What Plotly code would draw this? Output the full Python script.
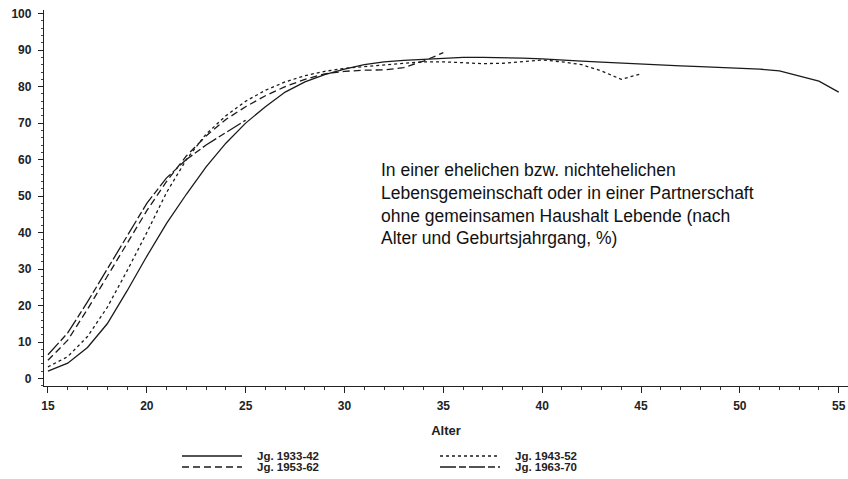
import plotly.graph_objects as go

# ---- data ----
ages_3342 = list(range(15, 56))
vals_3342 = [2, 4.2, 8.5, 15, 24, 33.5, 42.5, 50.5, 58, 64.5,
             70, 74.5, 78.5, 81.3, 83.3, 84.8, 86, 86.8, 87.2, 87.5,
             87.7, 88, 88, 88, 87.8, 87.6, 87.4, 87, 86.7, 86.4,
             86.1, 85.9, 85.7, 85.5, 85.3, 85.1, 84.8, 84.3, 83, 81.5,
             78.5]

ages_4352 = list(range(15, 46))
vals_4352 = [3.2, 6, 11.5, 19.5, 29.5, 40, 51, 60, 67, 72,
             76, 79, 81.3, 83, 84.2, 85, 85.5, 86, 86.3, 86.8,
             86.8, 86.5, 86.3, 86.4, 86.8, 87.3, 86.8, 86, 84.3, 82,
             83.5]

ages_5362 = list(range(15, 36))
vals_5362 = [5, 10.5, 19, 28, 37, 46, 54, 61, 66.5, 71,
             74.5, 77.5, 80, 82, 83.5, 84.2, 84.5, 84.6, 85.2, 87,
             89.3]

ages_6370 = list(range(15, 26))
vals_6370 = [6.5, 12.5, 21, 30, 39, 48, 55, 60, 64, 67.5, 70.8]

series_names = ["Jg. 1933-42", "Jg. 1943-52", "Jg. 1953-62", "Jg. 1963-70"]
series_dash = ["solid", "3px,3px", "7px,4px", "16px,3px,7px,3px"]

x_ticks = [15, 20, 25, 30, 35, 40, 45, 50, 55]
y_ticks = [0, 10, 20, 30, 40, 50, 60, 70, 80, 90, 100]
x_title = "Alter"
note_lines = [
    "In einer ehelichen bzw. nichtehelichen",
    "Lebensgemeinschaft oder in einer Partnerschaft",
    "ohne gemeinsamen Haushalt Lebende (nach",
    "Alter und Geburtsjahrgang, %)",
]

LINE_COLOR = "#1a1a1a"
FONT = "Liberation Sans, Arial, sans-serif"

fig = go.Figure()
data = [(ages_3342, vals_3342), (ages_4352, vals_4352),
        (ages_5362, vals_5362), (ages_6370, vals_6370)]
for (xs, ys), name, dash in zip(data, series_names, series_dash):
    fig.add_trace(go.Scatter(
        x=xs, y=ys, mode="lines", name=name,
        line=dict(color=LINE_COLOR, width=1.3, dash=dash),
        showlegend=False,
    ))

W, H = 848, 479
ML, MR, MT, MB = 44, 0, 10, 93
plot_w = W - ML - MR
plot_h = H - MT - MB

fig.update_layout(
    width=W, height=H,
    margin=dict(l=ML, r=MR, t=MT, b=MB),
    paper_bgcolor="white", plot_bgcolor="white",
    font=dict(family=FONT, color="#222"),
    xaxis=dict(
        range=[14.8, 55.47], tickvals=x_ticks,
        showgrid=False, zeroline=False,
        showline=True, linecolor="#222", linewidth=1.3,
        ticks="outside", ticklen=6, tickwidth=1.2, tickcolor="#222",
        minor=dict(dtick=1, ticks="outside", ticklen=3, tickwidth=1, tickcolor="#333"),
        tickfont=dict(size=12, weight="bold", family=FONT, color="#222"),
        ticklabelstandoff=2,
        title=dict(text=x_title, font=dict(size=13, weight="bold", family=FONT, color="#222"),
                   standoff=14),
    ),
    yaxis=dict(
        range=[-2.05, 101], tickvals=y_ticks,
        showgrid=False, zeroline=False,
        showline=True, linecolor="#222", linewidth=1.3,
        ticks="outside", ticklen=5, tickwidth=1.2, tickcolor="#222",
        minor=dict(dtick=2, ticks="outside", ticklen=2, tickwidth=1, tickcolor="#444"),
        tickfont=dict(size=12, weight="bold", family=FONT, color="#222"),
        ticklabelstandoff=4,
    ),
)

# explanatory note
fig.add_annotation(
    text="<br>".join(note_lines), xref="paper", yref="paper",
    x=(379 - ML) / plot_w, y=(MT + plot_h - 158) / plot_h,
    xanchor="left", yanchor="top", align="left", showarrow=False,
    font=dict(size=17.5, family=FONT, color="#111"),
)

# manual legend below the chart (two columns, two rows)
leg_pos = [(182, 456), (440, 456), (182, 467), (440, 467)]
order = [0, 1, 2, 3]
for idx, (px, py) in zip(order, leg_pos):
    y_paper = (MT + plot_h - py) / plot_h
    fig.add_shape(type="line", xref="paper", yref="paper",
                  x0=(px - ML) / plot_w, x1=(px + 60 - ML) / plot_w,
                  y0=y_paper, y1=y_paper,
                  line=dict(color=LINE_COLOR, width=1.3, dash=series_dash[idx]))
    fig.add_annotation(text=series_names[idx], xref="paper", yref="paper",
                       x=(px + 73 - ML) / plot_w, y=y_paper,
                       xanchor="left", yanchor="middle", showarrow=False,
                       font=dict(size=11.5, weight="bold", family=FONT, color="#222"))

fig.write_html("out.html",
               config={"displayModeBar": False},
               post_script="document.body.style.margin='0';document.body.style.overflow='hidden';")
